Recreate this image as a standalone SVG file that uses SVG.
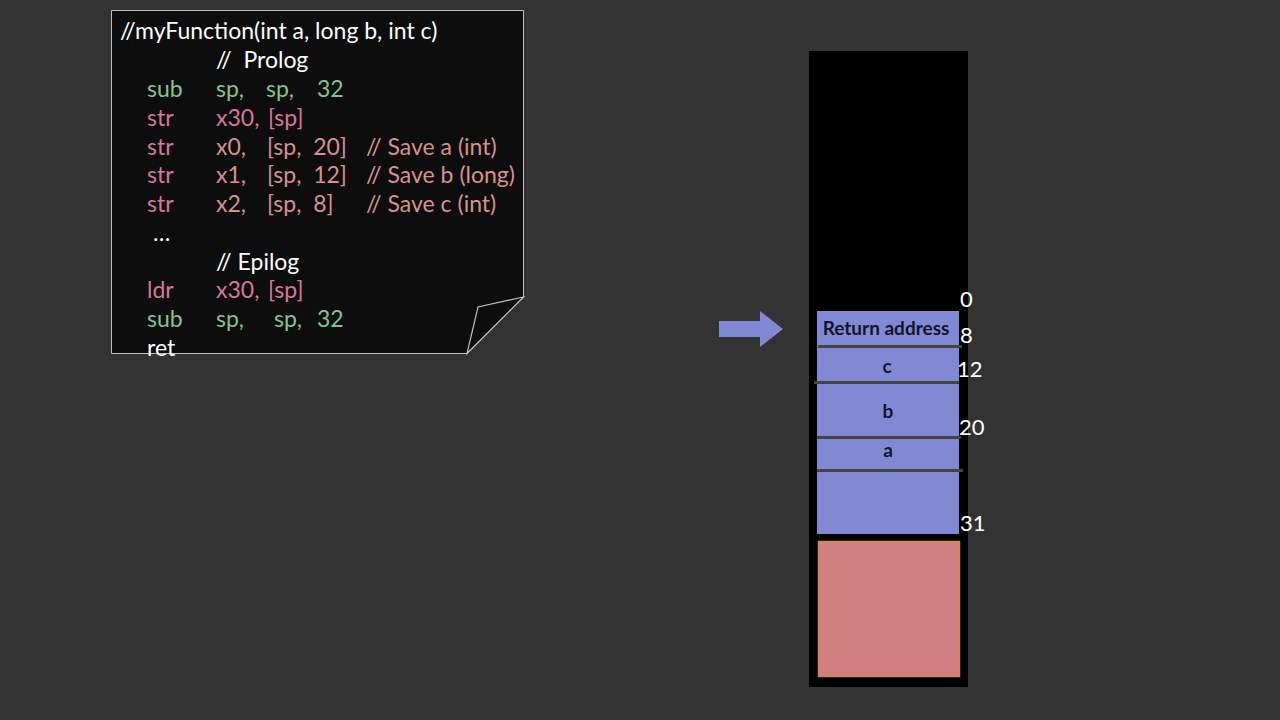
<svg xmlns="http://www.w3.org/2000/svg" width="1280" height="720" viewBox="0 0 1280 720">
<style>
text{white-space:pre}
.code{font-family:Lato,"Open Sans","Liberation Sans",sans-serif;font-size:23px}
.w{fill:#ffffff}
.g{fill:#85c48e}
.p{fill:#d5789a}
.s{fill:#d8918e}
.lbl{font-family:Lato,"Open Sans","Liberation Sans",sans-serif;font-size:19px;font-weight:bold;fill:#141428;text-anchor:middle}
.num{font-family:Lato,"Open Sans","Liberation Sans",sans-serif;font-size:22px;fill:#ffffff}
.sep{stroke:#444444;stroke-width:3}
</style>
<rect width="1280" height="720" fill="#333333"/>
<g id="code-note">
<polygon points="111.5,10.5 523.5,10.5 523.5,297 467,353.5 111.5,353.5" fill="#0d0d0d" stroke="#c0c0c0" stroke-width="1"/>
<polygon points="523.5,297 478,307 467,353.5" fill="#0d0d0d" stroke="#c0c0c0" stroke-width="1.2"/>
<text class="code w" x="120" y="39">//myFunction(int a, long b, int c)</text>
<text class="code w" x="216" y="68">//  Prolog</text>
<text class="code g" x="147" y="97">sub</text>
<text class="code g" x="216" y="97">sp,</text>
<text class="code g" x="266" y="97">sp,</text>
<text class="code g" x="317" y="97">32</text>
<text class="code p" x="147" y="126">str</text>
<text class="code p" x="216" y="126">x30,</text>
<text class="code p" x="268" y="126">[sp]</text>
<text class="code p" x="147" y="155">str</text>
<text class="code s" x="216" y="155">x0,</text>
<text class="code s" x="267" y="155">[sp,  20]</text>
<text class="code s" x="366" y="155">// Save a (int)</text>
<text class="code p" x="147" y="183">str</text>
<text class="code s" x="216" y="183">x1,</text>
<text class="code s" x="267" y="183">[sp,  12]</text>
<text class="code s" x="366" y="183">// Save b (long)</text>
<text class="code p" x="147" y="212">str</text>
<text class="code s" x="216" y="212">x2,</text>
<text class="code s" x="267" y="212">[sp,  8]</text>
<text class="code s" x="366" y="212">// Save c (int)</text>
<text class="code w" x="153" y="241">…</text>
<text class="code w" x="216" y="270">// Epilog</text>
<text class="code p" x="147" y="298">ldr</text>
<text class="code p" x="216" y="298">x30,</text>
<text class="code p" x="268" y="298">[sp]</text>
<text class="code g" x="147" y="327">sub</text>
<text class="code g" x="216" y="327">sp,</text>
<text class="code g" x="274" y="327">sp,</text>
<text class="code g" x="317" y="327">32</text>
<text class="code w" x="147" y="356">ret</text>
</g>
<g id="pointer-arrow">
<polygon points="719,321 760,321 760,311 783,329 760,347 760,337 719,337" fill="#8088d4"/>
</g>
<g id="stack">
<rect x="809" y="51" width="159" height="636" fill="#000000"/>
<rect x="817" y="311" width="142" height="223" fill="#8189d5"/>
<rect x="818.5" y="541.5" width="141" height="135" fill="#d37f7f" stroke="#c98a55" stroke-width="1.5"/>
</g>
<g id="connectors">
<line class="sep" x1="818" y1="346.5" x2="962" y2="346.5"/>
<line class="sep" x1="814" y1="382.5" x2="959" y2="382.5"/>
<line class="sep" x1="817" y1="437.5" x2="961" y2="437.5"/>
<line class="sep" x1="817" y1="470.5" x2="963" y2="470.5"/>
</g>
<g id="labels">
<text class="lbl" x="886" y="335">Return address</text>
<text class="lbl" x="887" y="373">c</text>
<text class="lbl" x="888" y="418">b</text>
<text class="lbl" x="888" y="457">a</text>
<text class="num" x="960" y="307">0</text>
<text class="num" x="960" y="343">8</text>
<text class="num" x="957" y="377">12</text>
<text class="num" x="959" y="435">20</text>
<text class="num" x="960" y="531">31</text>
</g>
</svg>
